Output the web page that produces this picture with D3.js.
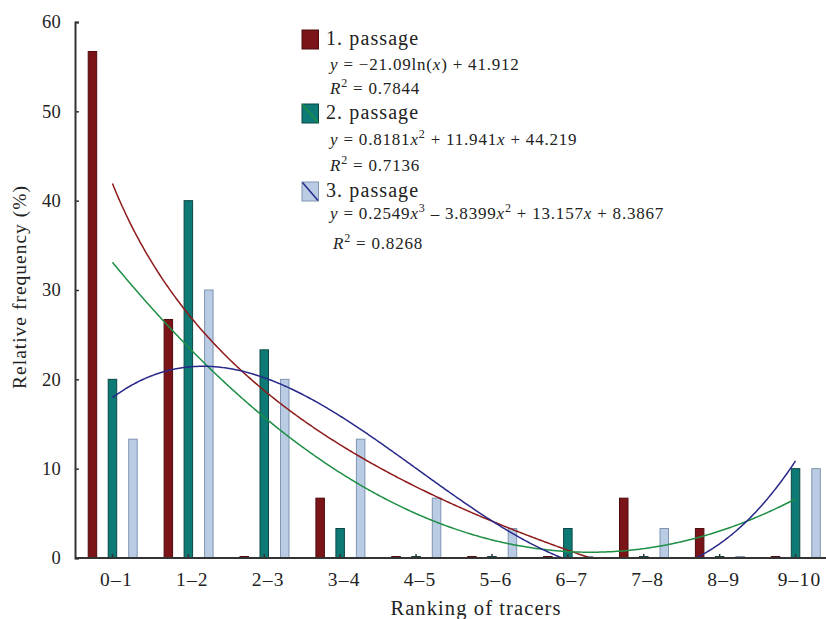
<!DOCTYPE html>
<html>
<head>
<meta charset="utf-8">
<script src="https://d3js.org/d3.v7.min.js"></script>
<style>
  body { margin: 0; background: #fff; }
  text { font-family: "Liberation Serif", "DejaVu Serif", serif; fill: #222; }
</style>
</head>
<body>
<div id="chart"></div>
<script>
var width = 826, height = 619

// data
var categories = ["0\u20131", "1\u20132", "2\u20133", "3\u20134", "4\u20135", "5\u20136", "6\u20137", "7\u20138", "8\u20139", "9\u201310"]
var passage1 = [56.7, 26.7, 0, 6.7, 0, 0, 0, 6.7, 3.3, 0]
var passage2 = [20, 40, 23.3, 3.3, 0, 0, 3.3, 0, 0, 10]
var passage3 = [13.3, 30, 20, 13.3, 6.7, 3.3, 0, 3.3, 0, 10]
var yTicks = [0, 10, 20, 30, 40, 50, 60]

// trend line coefficients (x = 1..10)
var fit1 = function(x){ return -21.09 * Math.log(x) + 41.912 }
var fit2 = function(x){ return 0.8181 * x * x - 11.941 * x + 44.219 }
var fit3 = function(x){ return 0.2549 * x * x * x - 3.8399 * x * x + 13.157 * x + 8.3867 }

var series = [
  {name: "1. passage", values: passage1, fill: "#7b1418", stroke: "#4e0c0e", offset: -20, fit: fit1, line: "#8e1b1b"},
  {name: "2. passage", values: passage2, fill: "#0e7a76", stroke: "#0a4744", offset: 0, fit: fit2, line: "#1d8f45"},
  {name: "3. passage", values: passage3, fill: "#b9cce4", stroke: "#7f95b1", offset: 20.5, fit: fit3, line: "#28288a"}
]

var svg = d3.select("#chart").append("svg")
  .attr("width", width).attr("height", height)

var x = d3.scaleBand().domain(categories).range([74.5, 833.5]).padding(0)
var y = d3.scaleLinear().domain([0, 60]).range([558, 22])
var xc = function(c){ return x(c) + x.bandwidth() / 2 }
var xLin = d3.scaleLinear().domain([1, 10]).range([xc(categories[0]), xc(categories[9])])

var barW = 8.5

// bars
series.forEach(function(s){
  svg.append("g").selectAll("rect")
    .data(s.values)
    .enter().append("rect")
    .attr("x", function(d, i){ return xc(categories[i]) + s.offset - barW / 2 })
    .attr("y", function(d){ return d > 0 ? y(d) : y(0) - 1.5 })
    .attr("width", barW)
    .attr("height", function(d){ return d > 0 ? y(0) - y(d) : 1.5 })
    .attr("fill", s.fill)
    .attr("stroke", s.stroke)
    .attr("stroke-width", 1)
})

// trend lines
var xs = d3.range(1, 10.0001, 0.02)
series.forEach(function(s){
  var line = d3.line()
    .defined(function(d){ return s.fit(d) >= 0 })
    .x(function(d){ return xLin(d) })
    .y(function(d){ return y(s.fit(d)) })
  svg.append("path")
    .datum(xs)
    .attr("d", line)
    .attr("fill", "none")
    .attr("stroke", s.line)
    .attr("stroke-width", 1.5)
})

// axes
var yAxis = d3.axisLeft(y).tickValues(yTicks).tickSize(-4).tickPadding(14)
var gy = svg.append("g").attr("transform", "translate(75,0)").call(yAxis)
gy.select(".domain").attr("stroke", "#333").attr("stroke-width", 2)
gy.selectAll(".tick line").attr("stroke", "#333").attr("stroke-width", 1.5)
gy.selectAll(".tick text")
  .style("font-family", "Liberation Serif, serif").style("font-size", "18.5px")
  .style("letter-spacing", "0.3px")
  .attr("fill", "#222")

var xAxis = d3.axisBottom(x).tickSize(-4).tickPadding(14)
var gx = svg.append("g").attr("transform", "translate(0,558)").call(xAxis)
gx.select(".domain").attr("stroke", "#333").attr("stroke-width", 2)
  .attr("d", "M75,0H826")
gx.selectAll(".tick line").attr("stroke", "#333").attr("stroke-width", 1.5)
gx.selectAll(".tick text")
  .style("font-family", "Liberation Serif, serif").style("font-size", "19.5px")
  .style("letter-spacing", "1.2px")
  .attr("fill", "#222")
  .attr("dx", 4)

svg.append("text")
  .attr("transform", "translate(26,287) rotate(-90)")
  .attr("text-anchor", "middle")
  .style("font-size", "19.5px").style("letter-spacing", "1px")
  .text("Relative frequency (%)")

svg.append("text")
  .attr("x", 476).attr("y", 615)
  .attr("text-anchor", "middle")
  .style("font-size", "20.5px").style("letter-spacing", "1.1px")
  .text("Ranking of tracers")

// legend
var legendY = [30, 104, 182]
var eqs = [
  [["i","y"],["n"," = \u221221.09ln("],["i","x"],["n",") + 41.912"]],
  [["i","y"],["n"," = 0.8181"],["i","x"],["s","2"],["n"," + 11.941"],["i","x"],["n"," + 44.219"]],
  [["i","y"],["n"," = 0.2549"],["i","x"],["s","3"],["n"," \u2013 3.8399"],["i","x"],["s","2"],["n"," + 13.157"],["i","x"],["n"," + 8.3867"]]
]
var r2 = ["0.7844", "0.7136", "0.8268"]
var eqY = [70, 145, 219]
var r2Y = [94, 171, 249]
var r2X = [330, 330, 333]

function richText(g, parts, xx, yy){
  var t = g.append("text").attr("x", xx).attr("y", yy)
    .style("font-size", "17px").style("letter-spacing", "0.8px")
  var shifted = false
  parts.forEach(function(p){
    var ts = t.append("tspan").text(p[1])
    if (p[0] == "i") ts.style("font-style", "italic")
    if (p[0] == "s") { ts.attr("dy", -7).style("font-size", "12px"); shifted = true }
    else if (shifted) { ts.attr("dy", 7); shifted = false }
  })
  return t
}

series.forEach(function(s, i){
  var g = svg.append("g")
  g.append("rect")
    .attr("x", 302).attr("y", legendY[i])
    .attr("width", 16.5).attr("height", 19)
    .attr("fill", s.fill).attr("stroke", s.stroke).attr("stroke-width", 1)
  if (i > 0) {
    g.append("line")
      .attr("x1", 302.5).attr("y1", legendY[i] + 0.5)
      .attr("x2", 318).attr("y2", legendY[i] + 18.5)
      .attr("stroke", s.line).attr("stroke-width", 1.5)
  }
  g.append("text")
    .attr("x", 326).attr("y", legendY[i] + 15)
    .style("font-size", "20px").style("letter-spacing", "1.1px")
    .text(s.name)
  richText(g, eqs[i], 330, eqY[i])
  richText(g, [["i","R"],["s","2"],["n"," = " + r2[i]]], r2X[i], r2Y[i])
})
</script>
</body>
</html>
